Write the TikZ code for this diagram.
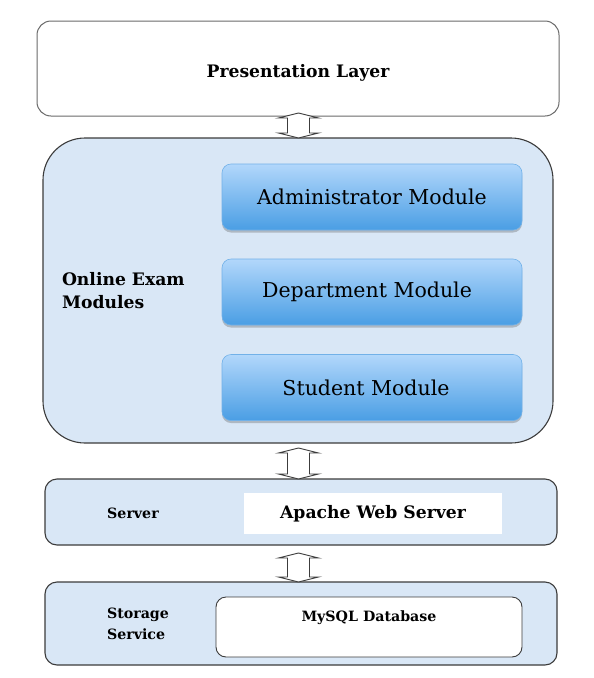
\documentclass[tikz,border=0pt]{standalone}
\usepackage{fontspec}
\setmainfont{DejaVu Serif}
\usetikzlibrary{calc,shadows}
\definecolor{layerblue}{HTML}{D9E7F6}
\definecolor{btntop}{HTML}{B2D7FB}
\definecolor{btnbot}{HTML}{4A9EE4}
\definecolor{btnedge}{HTML}{72B1E8}
\definecolor{edgegray}{HTML}{6A6A6A}
\definecolor{edgedark}{HTML}{3C3C3C}
\newcommand{\dblink}[4]{%
  \path ($(#1.south)+(#4,#3)$) coordinate (tp);
  \path (tp |- #2.north) coordinate (bt);
  \draw[linkarrow] (tp) -- ($(tp)+(20,5)$) -- ($(tp)+(11,5)$) -- ($(bt)+(11,-5)$) -- ($(bt)+(20,-5)$) -- (bt)
    -- ($(bt)+(-20,-5)$) -- ($(bt)+(-11,-5)$) -- ($(tp)+(-11,5)$) -- ($(tp)+(-20,5)$) -- cycle;
}
\begin{document}
\begin{tikzpicture}[x=1pt,y=-1pt,
  every node/.style={inner sep=0pt, outer sep=0pt, text=black},
  plainbox/.style={draw=edgegray, line width=1pt, fill=white, rounded corners=14pt},
  panel/.style={draw=edgedark, line width=1.1pt, fill=layerblue},
  btn/.style={draw=btnedge, line width=0.6pt, rounded corners=9pt, top color=btntop, bottom color=btnbot,
    minimum width=300pt, minimum height=66pt,
    drop shadow={shadow xshift=0pt, shadow yshift=-2.5pt, opacity=0.3, fill=black!70}},
  btnfont/.style={font=\fontsize{20.5}{24}\selectfont},
  bigbold/.style={font=\fontsize{17.2}{23}\selectfont\bfseries},
  smallbold/.style={font=\fontsize{14.2}{21}\selectfont\bfseries},
  linkarrow/.style={draw=edgedark, line width=0.9pt, fill=white, line join=miter}
]
\useasboundingbox (0,0) rectangle (594,678);
\fill[white] (0,0) rectangle (594,678);

% presentation layer
\node[plainbox, minimum width=522pt, minimum height=95pt, bigbold, text height=21pt, text depth=4pt] (pres) at (298,68.5) {Presentation Layer};

% modules panel
\node[panel, rounded corners=42pt, minimum width=510pt, minimum height=305pt] (mods) at (298,290.5) {};
\node[bigbold, anchor=west, align=left] (modlabel) at (62,290.5) {Online Exam\\Modules};
\node[btn, btnfont] (admin) at (372,197) {Administrator Module};
\node[btn, btnfont] (dept) at (372,292) {Department Module\hspace*{10pt}};
\node[btn, btnfont] (stud) at (372,387.5) {Student Module\hspace*{12pt}};

% server
\node[panel, rounded corners=12pt, minimum width=512pt, minimum height=66pt] (srv) at (301,512) {};
\node[smallbold] (srvlabel) at (133,513) {Server};
\node[fill=white, minimum width=258pt, minimum height=41pt, bigbold] (apache) at (373,513.5) {Apache Web Server};

% storage
\node[panel, rounded corners=12pt, minimum width=512pt, minimum height=83pt] (store) at (301,623.5) {};
\node[smallbold, anchor=west, align=left] (stlabel) at (107,623.5) {Storage\\Service};
\node[draw=edgedark, line width=0.9pt, fill=white, rounded corners=10pt, minimum width=306pt, minimum height=60pt] (mysql) at (369,627) {};
\node[smallbold] (mysqllabel) at (369,618) {MySQL Database};

% connectors
\dblink{pres}{mods}{-3}{0.5}
\dblink{mods}{srv}{5}{0.5}
\dblink{srv}{store}{8}{-2.5}
\end{tikzpicture}
\end{document}
